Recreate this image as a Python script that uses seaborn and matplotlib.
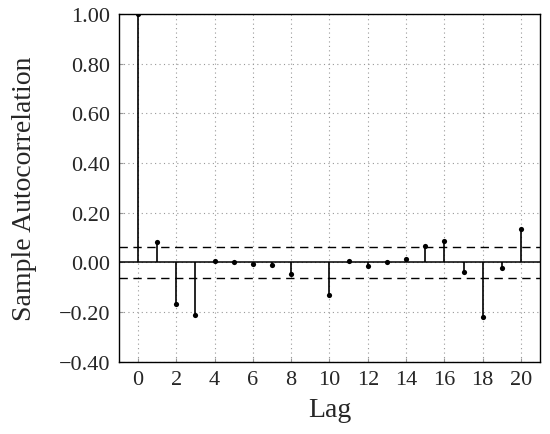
import seaborn as sns
import pandas as pd
import matplotlib.pyplot as plt

# sample ACF values (lag 9 is not drawn)
lags = [0, 1, 2, 3, 4, 5, 6, 7, 8, 10, 11, 12, 13, 14, 15, 16, 17, 18, 19, 20]
acf = [1.0, 0.082, -0.167, -0.211, 0.007, 0.002, -0.005, -0.009, -0.046,
       -0.130, 0.004, -0.013, 0.002, 0.014, 0.067, 0.086, -0.037, -0.218,
       -0.024, 0.133]
bound = 0.063

df = pd.DataFrame({'Lag': lags, 'ACF': acf})

sns.set_style('ticks')
plt.rcParams['font.family'] = ['Liberation Serif', 'DejaVu Serif']

fig = plt.figure(figsize=(5.5, 4.35), dpi=100)
ax = fig.add_axes([0.216, 0.166, 0.766, 0.7995])

# stems and dots
ax.vlines(df['Lag'], 0, df['ACF'], color='black', linewidth=1.2, zorder=3)
sns.scatterplot(data=df, x='Lag', y='ACF', ax=ax, color='black', s=14,
                edgecolor='black', linewidth=0, zorder=4, legend=False)

# zero line and confidence bounds
ax.axhline(0, color='black', linewidth=1.1, zorder=2)
ax.axhline(bound, color='black', linewidth=1.0, linestyle=(0, (6, 4)), zorder=2)
ax.axhline(-bound, color='black', linewidth=1.0, linestyle=(0, (6, 4)), zorder=2)

ax.set_xlim(-1, 21)
ax.set_ylim(-0.4, 1.0)
ax.set_xticks(range(0, 21, 2))
ax.set_yticks([-0.4, -0.2, 0.0, 0.2, 0.4, 0.6, 0.8, 1.0])
ax.set_yticklabels(['\u22120.40', '\u22120.20', '0.00', '0.20', '0.40',
                    '0.60', '0.80', '1.00'])
ax.grid(True, color='#999999', linestyle=(0, (1, 3)), linewidth=0.8)
ax.tick_params(direction='in', length=3, labelsize=16, color='#999999', pad=6)
for s in ax.spines.values():
    s.set_color('black')
    s.set_linewidth(1.0)

ax.set_xlabel('Lag', fontsize=20, labelpad=6)
ax.set_ylabel('Sample Autocorrelation', fontsize=20, labelpad=16)

fig.savefig('out.png', dpi=100)
